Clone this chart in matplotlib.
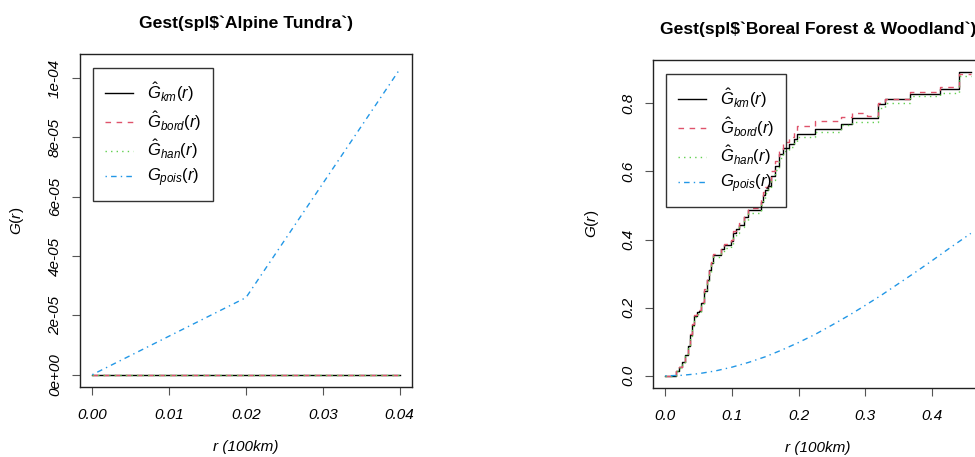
import matplotlib
matplotlib.use("Agg")
import matplotlib.pyplot as plt

plt.rcParams['font.family'] = ['Liberation Sans', 'DejaVu Sans']
plt.rcParams['mathtext.fontset'] = 'custom'
plt.rcParams['mathtext.rm'] = 'Liberation Sans'
plt.rcParams['mathtext.it'] = 'Liberation Sans:italic'
plt.rcParams['mathtext.bf'] = 'Liberation Sans:bold'

# Alpine Tundra
r_alp = [0.0, 0.02, 0.04]
km_alp = [0.0, 0.0, 0.0]
bord_alp = [0.0, 0.0, 0.0]
han_alp = [0.0, 0.0, 0.0]
pois_alp = [0.0, 2.6e-05, 1.03e-04]

# Boreal Forest & Woodland (step estimates, value holds until next r)
r_bor = [0.0, 0.016, 0.021, 0.025, 0.030, 0.034, 0.037, 0.040, 0.043, 0.047,
         0.050, 0.054, 0.058, 0.062, 0.065, 0.069, 0.072, 0.084, 0.088, 0.099,
         0.102, 0.106, 0.111, 0.118, 0.124, 0.144, 0.146, 0.150, 0.154, 0.159,
         0.164, 0.171, 0.176, 0.186, 0.193, 0.197, 0.224, 0.264, 0.280, 0.303,
         0.319, 0.330, 0.367, 0.412, 0.440, 0.458]
km_bor = [0.0, 0.015, 0.025, 0.04, 0.06, 0.088, 0.12, 0.15, 0.176, 0.186,
          0.19, 0.215, 0.25, 0.28, 0.31, 0.33, 0.355, 0.372, 0.385, 0.396,
          0.42, 0.43, 0.444, 0.465, 0.487, 0.51, 0.53, 0.545, 0.558, 0.585,
          0.615, 0.651, 0.668, 0.68, 0.695, 0.71, 0.725, 0.739, 0.756, 0.756,
          0.798, 0.813, 0.827, 0.842, 0.891, 0.891]
bord_bor = [0.0, 0.015, 0.025, 0.04, 0.062, 0.09, 0.122, 0.152, 0.178, 0.188,
            0.192, 0.218, 0.254, 0.284, 0.314, 0.334, 0.358, 0.375, 0.388, 0.4,
            0.424, 0.434, 0.448, 0.47, 0.492, 0.52, 0.54, 0.555, 0.57, 0.6,
            0.63, 0.665, 0.685, 0.70, 0.715, 0.734, 0.747, 0.759, 0.771, 0.761,
            0.80, 0.813, 0.832, 0.848, 0.885, 0.885]
han_bor = [0.0, 0.013, 0.022, 0.037, 0.057, 0.085, 0.116, 0.146, 0.172, 0.182,
           0.186, 0.21, 0.244, 0.274, 0.304, 0.324, 0.348, 0.36, 0.375, 0.385,
           0.41, 0.42, 0.437, 0.455, 0.478, 0.5, 0.52, 0.535, 0.55, 0.575,
           0.605, 0.64, 0.66, 0.67, 0.685, 0.70, 0.715, 0.735, 0.744, 0.744,
           0.786, 0.80, 0.82, 0.83, 0.88, 0.88]
r_pois = [0.0, 0.025, 0.05, 0.075, 0.1, 0.125, 0.15, 0.175, 0.2, 0.225, 0.25,
          0.275, 0.3, 0.325, 0.35, 0.375, 0.4, 0.425, 0.45, 0.458]
pois_bor = [0.0, 0.0016, 0.0064, 0.0144, 0.0255, 0.0395, 0.056, 0.076, 0.098,
            0.122, 0.149, 0.177, 0.207, 0.238, 0.271, 0.304, 0.338, 0.373,
            0.407, 0.418]

x_ticks_alp = [0.0, 0.01, 0.02, 0.03, 0.04]
x_labels_alp = ['0.00', '0.01', '0.02', '0.03', '0.04']
y_ticks_alp = [0.0, 2e-05, 4e-05, 6e-05, 8e-05, 1e-04]
y_labels_alp = ['0e+00', '2e-05', '4e-05', '6e-05', '8e-05', '1e-04']
x_ticks_bor = [0.0, 0.1, 0.2, 0.3, 0.4]
x_labels_bor = ['0.0', '0.1', '0.2', '0.3', '0.4']
y_ticks_bor = [0.0, 0.2, 0.4, 0.6, 0.8]
y_labels_bor = ['0.0', '0.2', '0.4', '0.6', '0.8']

labels = [r'$\hat{G}_{km}(r)$', r'$\hat{G}_{bord}(r)$',
          r'$\hat{G}_{han}(r)$', r'$G_{pois}(r)$']

fig = plt.figure(figsize=(9.75, 4.57), dpi=100)
ax1 = fig.add_axes([80 / 975, 70 / 457, 332 / 975, 333 / 457])
ax2 = fig.add_axes([653 / 975, 69 / 457, 330 / 975, 328 / 457])


def draw(ax, r, km, bord, han, rp, pois, steps):
    ds = 'steps-post' if steps else 'default'
    ax.plot(r, km, color='black', lw=1.0, drawstyle=ds)
    ax.plot(r, bord, color='#DF536B', lw=1.0, ls=(0, (4, 4)), drawstyle=ds)
    ax.plot(r, han, color='#61D04F', lw=1.0, ls=(0, (1, 3)), drawstyle=ds)
    ax.plot(rp, pois, color='#2297E6', lw=1.0, ls=(0, (1, 3, 4, 3)))


draw(ax1, r_alp, km_alp, bord_alp, han_alp, r_alp, pois_alp, False)
draw(ax2, r_bor, km_bor, bord_bor, han_bor, r_pois, pois_bor, True)

ax1.set_xlim(-0.0016, 0.0416)
ax1.set_ylim(-0.0416e-04, 1.0816e-04)
ax2.set_xlim(-0.0183, 0.4763)
ax2.set_ylim(-0.0356, 0.9266)

setups = [
    (ax1, x_ticks_alp, x_labels_alp, y_ticks_alp, y_labels_alp,
     "Gest(spl$`Alpine Tundra`)", 332, 333),
    (ax2, x_ticks_bor, x_labels_bor, y_ticks_bor, y_labels_bor,
     "Gest(spl$`Boreal Forest & Woodland`)", 330, 328),
]
for ax, xt, xl, yt, yl, title, w, h in setups:
    ax.set_xticks(xt)
    ax.set_xticklabels(xl, fontstyle='italic', fontsize=11)
    ax.set_yticks(yt)
    ax.set_yticklabels(yl, fontstyle='italic', fontsize=11, rotation=90,
                       va='center')
    ax.tick_params(direction='out', length=6, width=0.8, color='#555555',
                   pad=7)
    ax.tick_params(axis='x', pad=9)
    for s in ax.spines.values():
        s.set_linewidth(1.0)
        s.set_color('#222222')
    ax.set_title(title, fontweight='bold', fontsize=12.6, pad=19)
    ax.set_xlabel('r (100km)', fontstyle='italic', fontsize=11, va='center')
    ax.set_ylabel(r'$G(r)$', fontsize=11, va='center')
    ax.xaxis.set_label_coords(0.5, -60 / h)
    leg = ax.legend(labels, loc='upper left',
                    bbox_to_anchor=(13 / w, 1 - 14 / h), borderaxespad=0,
                    frameon=True, fancybox=False, edgecolor='black',
                    facecolor='none', fontsize=12, handlelength=1.7,
                    handletextpad=0.8, labelspacing=0.32, borderpad=0.72)
    leg.get_frame().set_linewidth(1.0)

ax1.yaxis.set_label_coords(-63 / 332, 0.5)
ax2.yaxis.set_label_coords(-61 / 330, 0.5)

fig.savefig('out.png', dpi=100)
